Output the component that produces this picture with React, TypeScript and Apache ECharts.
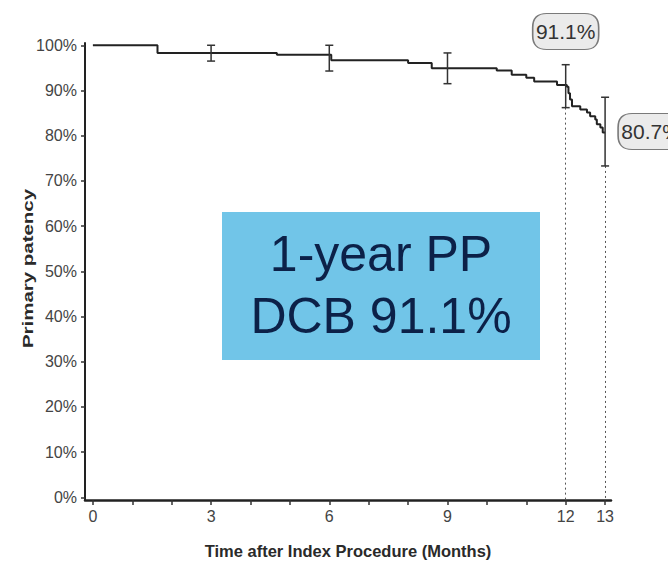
import React, { useEffect, useRef } from "react";
import * as echarts from "echarts";

// Kaplan-Meier curve (months, % patency)
const kmTimes = [0, 1.64, 4.67, 6.05, 8.0, 8.6, 10.25, 10.63, 11.0, 11.2, 11.78, 12.03, 12.07, 12.11, 12.16, 12.37, 12.54, 12.62, 12.75, 12.79, 12.88, 12.94, 13.0];
const kmValues = [100, 98.3, 97.9, 96.7, 96.1, 94.9, 94.4, 93.5, 92.8, 92.0, 91.2, 90.8, 89.4, 88.0, 86.5, 85.8, 85.1, 84.3, 83.6, 82.5, 81.8, 80.7, 80.7];

// confidence interval bars
const ciTimes = [3, 6, 9, 12, 13];
const ciLow = [96.5, 94.3, 91.5, 86.2, 73.3];
const ciHigh = [100, 100, 98.3, 95.7, 88.5];

// callouts
const calloutTimes = [12, 13];
const calloutValues = [91.1, 80.7];
const calloutTexts = ["91.1%", "80.7%"];

// axes
const xTickValues = [0, 1, 2, 3, 4, 5, 6, 7, 8, 9, 10, 11, 12, 13];
const xLabelValues = [0, 3, 6, 9, 12, 13];
const yTickValues = [0, 10, 20, 30, 40, 50, 60, 70, 80, 90, 100];

const xTitle = "Time after Index Procedure (Months)";
const yTitle = "Primary patency";
const boxLine1 = "1-year PP";
const boxLine2 = "DCB 91.1%";

const FONT = "'Liberation Sans', Arial, Helvetica, sans-serif";
const bubblePath =
  "path://M14,0 H52 Q66,0 66,14 V22 Q66,36 52,36 H14 Q0,36 0,22 V14 Q0,0 14,0 Z";

export default function App() {
  const ref = useRef<HTMLDivElement>(null);

  useEffect(() => {
    if (!ref.current) return;
    const chart = echarts.init(ref.current, null, { renderer: "svg" });

    const bubbleOffsets = [
      [0, -54],
      [46, -1],
    ];

    const option: any = {
      animation: false,
      backgroundColor: "#ffffff",
      grid: { left: 85, right: 57, top: 43, height: 458 },
      xAxis: {
        type: "value",
        min: -0.2,
        max: 13.15,
        name: xTitle,
        nameLocation: "middle",
        nameGap: 42,
        nameTextStyle: { fontFamily: FONT, fontSize: 16.5, fontWeight: "bold", color: "#2a2a2a" },
        axisLine: { show: true, onZero: false, lineStyle: { color: "#222", width: 2.5 } },
        axisTick: { show: true, length: 5, customValues: xTickValues, lineStyle: { color: "#333", width: 1.5 } },
        axisLabel: {
          customValues: xLabelValues,
          fontFamily: FONT,
          fontSize: 16,
          color: "#444",
          margin: 8,
        },
        splitLine: { show: false },
      },
      yAxis: {
        type: "value",
        min: -0.6,
        max: 100.5,
        axisLine: { show: true, onZero: false, lineStyle: { color: "#222", width: 2 } },
        axisTick: { show: true, length: 4, customValues: yTickValues, lineStyle: { color: "#333", width: 1.5 } },
        axisLabel: {
          customValues: yTickValues,
          formatter: "{value}%",
          fontFamily: FONT,
          fontSize: 16,
          color: "#444",
          margin: 8,
        },
        splitLine: { show: false },
      },
      graphic: [
        {
          type: "text",
          x: 28,
          y: 268.5,
          rotation: Math.PI / 2,
          scaleX: 1.32,
          style: {
            text: yTitle,
            fontFamily: FONT,
            fontSize: 15.5,
            fontWeight: "bold",
            fill: "#2a2a2a",
            align: "center",
            verticalAlign: "middle",
          },
          z: 10,
        },
        {
          type: "rect",
          shape: { x: 222, y: 212, width: 318, height: 148 },
          style: { fill: "#71c5e8" },
          z: 20,
        },
        {
          type: "text",
          x: 381,
          y: 254,
          style: {
            text: boxLine1,
            fontFamily: FONT,
            fontSize: 50,
            fill: "#0c2148",
            align: "center",
            verticalAlign: "middle",
          },
          z: 21,
        },
        {
          type: "text",
          x: 381,
          y: 316,
          style: {
            text: boxLine2,
            fontFamily: FONT,
            fontSize: 50,
            fill: "#0c2148",
            align: "center",
            verticalAlign: "middle",
          },
          z: 21,
        },
      ],
      series: [
        {
          type: "line",
          step: "end",
          symbol: "none",
          data: kmTimes.map((t, i) => [t, kmValues[i]]),
          lineStyle: { color: "#222", width: 2 },
          z: 5,
          markPoint: {
            symbol: bubblePath,
            symbolSize: [66, 36],
            symbolKeepAspect: false,
            silent: true,
            itemStyle: { color: "#ebebeb", borderColor: "#7a7a7a", borderWidth: 1.2 },
            label: {
              show: true,
              position: "inside",
              fontFamily: FONT,
              fontSize: 21,
              color: "#333",
            },
            data: calloutTimes.map((t, i) => ({
              coord: [t, calloutValues[i]],
              value: calloutTexts[i],
              symbolOffset: bubbleOffsets[i],
              label: { formatter: calloutTexts[i] },
            })),
          },
        },
        {
          type: "custom",
          data: ciTimes.map((t, i) => [t, ciLow[i], ciHigh[i]]),
          renderItem: (params: any, api: any) => {
            const t = api.value(0);
            const lo = api.coord([t, api.value(1)]);
            const hi = api.coord([t, api.value(2)]);
            const cap = 4;
            const style = { stroke: "#333", lineWidth: 1.5 };
            return {
              type: "group",
              children: [
                { type: "line", shape: { x1: lo[0], y1: lo[1], x2: hi[0], y2: hi[1] }, style },
                { type: "line", shape: { x1: lo[0] - cap, y1: lo[1], x2: lo[0] + cap, y2: lo[1] }, style },
                { type: "line", shape: { x1: hi[0] - cap, y1: hi[1], x2: hi[0] + cap, y2: hi[1] }, style },
              ],
            };
          },
          z: 6,
          markLine: {
            silent: true,
            symbol: ["none", "none"],
            label: { show: false },
            lineStyle: { color: "#555", width: 1, type: [2, 3] },
            data: calloutTimes.map((t) => {
              const idx = ciTimes.indexOf(t);
              return [{ coord: [t, ciLow[idx]] }, { coord: [t, -0.6] }];
            }),
          },
        },
      ],
    };

    chart.setOption(option);
    return () => chart.dispose();
  }, []);

  return (
    <div
      ref={ref}
      style={{ position: "fixed", left: 0, top: 0, width: 668, height: 564, background: "#fff" }}
    />
  );
}
